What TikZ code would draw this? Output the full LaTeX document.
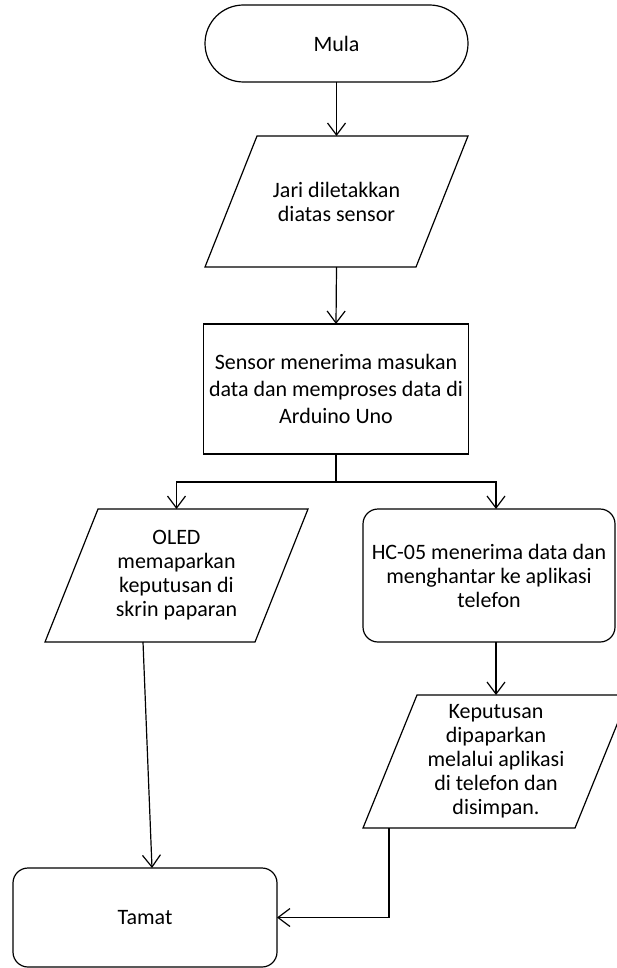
\documentclass[tikz,border=0pt]{standalone}
\usepackage{fontspec}
\setmainfont{Carlito}
\usetikzlibrary{arrows.meta,calc}
\newcommand{\paragram}[2]{%
  \draw[shapeline] (#1.south west) -- ($(#1.north west)+(#2,0)$) -- (#1.north east)
    -- ($(#1.south east)+(-#2,0)$) -- cycle;}
\begin{document}
\begin{tikzpicture}[x=1pt,y=-1pt,
  shapeline/.style={draw=black,line width=1.2pt,line join=miter},
  base/.style={draw=black,line width=1.2pt,align=center,inner sep=0pt,outer sep=0pt,
    font=\fontsize{22}{24}\selectfont,text=black},
  term/.style={base,rectangle,rounded corners=38.5pt,minimum width=263pt,minimum height=77pt},
  proc/.style={base,rectangle,minimum width=265pt,minimum height=130pt},
  roundbox/.style={base,rectangle,rounded corners=15pt},
  iobox/.style={base,draw=none,rectangle,minimum width=263pt,minimum height=132pt},
  arr/.style={draw=black,line width=1.2pt,-{Straight Barb[length=12pt,width=18pt,line width=1.2pt]}},
  link/.style={draw=black,line width=1.2pt}]
\useasboundingbox (0,0) rectangle (617,968);
\fill[white] (0,0) rectangle (617,968);
\clip (0,0) rectangle (617,968);

\node[term] (mula) at (336.5,43.5) {Mula};
\node[iobox,minimum height=131pt] (jari) at (336.5,201.5) {Jari diletakkan\\diatas sensor};
\node[proc,font=\fontsize{22}{27}\selectfont] (sensor) at (336,389) {Sensor menerima masukan\\data dan memproses data di\\Arduino Uno};
\coordinate (split) at (336,482);
\node[iobox,minimum height=133pt] (oled) at (176.5,575.5) {OLED\\memaparkan\\keputusan di\\skrin paparan};
\node[roundbox,minimum width=252pt,minimum height=133pt] (hc) at (489,575.5) {HC-05 menerima data dan\\menghantar ke aplikasi\\telefon};
\node[iobox,minimum width=266pt,minimum height=133pt] (kep) at (496,761.5) {Keputusan\\dipaparkan\\melalui aplikasi\\di telefon dan\\disimpan.};
\node[roundbox,minimum width=264pt,minimum height=99pt] (tamat) at (145,917.5) {Tamat};

\paragram{jari}{52}
\paragram{oled}{53}
\paragram{kep}{54}

\draw[arr] (mula.south) -- (jari.north);
\draw[arr] (jari.south) -- (sensor.north);
\draw[link] (sensor.south) -- (split);
\draw[arr] (split) -| (oled.north);
\draw[arr] (split) -| (hc.north -| kep.north);
\draw[arr] (hc.south -| kep.north) -- (kep.north);
\draw[arr] ($(oled.south)+(-33.5,0)$) -- ($(tamat.north)+(7,0)$);
\draw[arr] ($(kep.south)+(-107,0)$) |- (tamat.east);
\end{tikzpicture}
\end{document}
